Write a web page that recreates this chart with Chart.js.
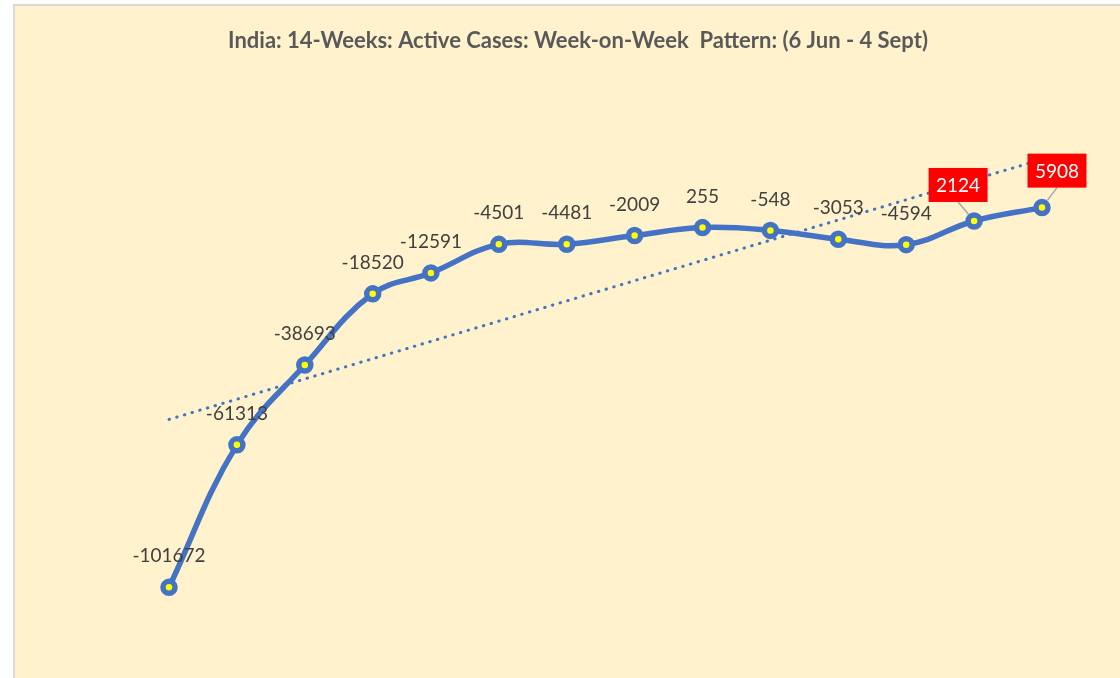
<!DOCTYPE html>
<html>
<head>
<meta charset="utf-8">
<script src="https://cdn.jsdelivr.net/npm/chart.js@4.4.1/dist/chart.umd.min.js"></script>
<style>
  html, body { margin: 0; padding: 0; background: #ffffff; }
  #wrap { width: 1120px; height: 678px; }
</style>
</head>
<body>
<div id="wrap"><canvas id="c" width="1120" height="678"></canvas></div>
<script>
// ---- Data ----
const chartTitle = 'India: 14-Weeks: Active Cases: Week-on-Week  Pattern: (6 Jun - 4 Sept)';
const weekDates = ['2021-06-06','2021-06-13','2021-06-20','2021-06-27','2021-07-03','2021-07-10','2021-07-17',
                   '2021-07-24','2021-07-31','2021-08-07','2021-08-14','2021-08-21','2021-08-28','2021-09-04'];
const activeChange = [-101672, -61313, -38693, -18520, -12591, -4501, -4481, -2009, 255, -548, -3053, -4594, 2124, 5908];
const trendEnds = [-54100, 19600];   // linear trendline, first and last week

// ---- derived ----
const day0 = Date.parse(weekDates[0]);
const dayOffsets = weekDates.map(d => Math.round((Date.parse(d) - day0) / 86400000));
const mainPoints = activeChange.map((v, i) => ({ x: dayOffsets[i], y: v }));
const trendPoints = [
  { x: dayOffsets[0], y: trendEnds[0] },
  { x: dayOffsets[dayOffsets.length - 1], y: trendEnds[1] }
];

const BLUE = '#4472C4';
const LABEL_FONT = '19px Lato';
const calloutIdx = { 12: { dx: -16, dy: -36 }, 13: { dx: 15, dy: -37 } };

const framePlugin = {
  id: 'frame',
  beforeDraw(chart) {
    const ctx = chart.ctx;
    ctx.save();
    ctx.fillStyle = '#ffffff';
    ctx.fillRect(0, 0, chart.width, chart.height);
    ctx.fillStyle = '#FFF2CC';
    ctx.fillRect(13, 4, chart.width - 13 + 5, chart.height);
    ctx.strokeStyle = '#D9D9D9';
    ctx.lineWidth = 2;
    ctx.strokeRect(14, 5, chart.width + 10, chart.height + 10);
    // title
    ctx.fillStyle = '#595959';
    ctx.font = 'bold 22px Lato';
    ctx.textAlign = 'center';
    ctx.textBaseline = 'middle';
    ctx.fillText(chartTitle, 578, 41);
    ctx.restore();
  }
};

const labelPlugin = {
  id: 'ptLabels',
  afterDatasetsDraw(chart) {
    const ctx = chart.ctx;
    const meta = chart.getDatasetMeta(1);
    ctx.save();
    ctx.font = LABEL_FONT;
    ctx.textAlign = 'center';
    ctx.textBaseline = 'middle';
    meta.data.forEach((el, i) => {
      const txt = String(activeChange[i]);
      const c = calloutIdx[i];
      if (c) {
        const cx = el.x + c.dx, cy = el.y + c.dy;
        const w = 59, h = 34;
        const ang = Math.atan2(el.y - (cy + h / 2), el.x - cx);
        ctx.strokeStyle = '#A6A6A6';
        ctx.lineWidth = 1.5;
        ctx.beginPath();
        ctx.moveTo(cx, cy + h / 2);
        ctx.lineTo(el.x - Math.cos(ang) * 9, el.y - Math.sin(ang) * 9);
        ctx.stroke();
        ctx.fillStyle = '#FF0000';
        ctx.fillRect(cx - w / 2, cy - h / 2, w, h);
        ctx.fillStyle = '#FFFFFF';
        ctx.fillText(txt, cx, cy + 1);
      } else {
        ctx.fillStyle = '#404040';
        ctx.fillText(txt, el.x, el.y - 31);
      }
    });
    ctx.restore();
  }
};

new Chart(document.getElementById('c'), {
  type: 'line',
  data: {
    datasets: [
      {
        label: 'Linear trend',
        data: trendPoints,
        borderColor: BLUE,
        borderWidth: 3,
        borderDash: [0.5, 7.5],
        borderCapStyle: 'round',
        pointRadius: 0,
        tension: 0,
        fill: false,
        clip: false,
        order: 2
      },
      {
        label: 'Active cases change',
        data: mainPoints,
        borderColor: BLUE,
        borderWidth: 5.5,
        tension: 0.4,
        cubicInterpolationMode: 'default',
        pointRadius: 6,
        pointBorderWidth: 5.5,
        pointBorderColor: BLUE,
        pointBackgroundColor: '#FFFF00',
        fill: false,
        clip: false,
        order: 1
      }
    ]
  },
  options: {
    responsive: false,
    animation: false,
    layout: { padding: { left: 169, right: 78, top: 52, bottom: 26 } },
    scales: {
      x: { type: 'linear', min: 0, max: 90, display: false },
      y: { type: 'linear', min: -120000, max: 50000, display: false }
    },
    plugins: {
      legend: { display: false },
      title: { display: false },
      tooltip: { enabled: false }
    }
  },
  plugins: [framePlugin, labelPlugin]
});
</script>
</body>
</html>
